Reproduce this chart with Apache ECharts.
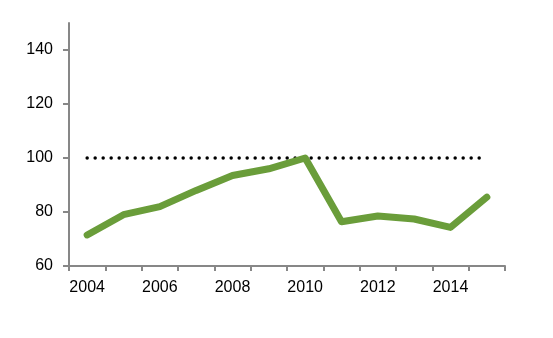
<!DOCTYPE html>
<html>
<head>
<meta charset="utf-8">
<script src="https://cdn.jsdelivr.net/npm/echarts@6/dist/echarts.min.js"></script>
<style>
  html, body { margin: 0; padding: 0; background: #fff; }
  #chart { width: 553px; height: 338px; }
</style>
</head>
<body>
<div id="chart"></div>
<script>
// Yearly index values and the 100 reference level
const years = ['2004', '2005', '2006', '2007', '2008', '2009', '2010', '2011', '2012', '2013', '2014', '2015'];
const indexValues = [71.5, 79, 82, 88, 93.5, 96, 100, 76.4, 78.5, 77.4, 74.3, 85.5];
const referenceLevel = [100, 100, 100, 100, 100, 100, 100, 100, 100, 100, 100, 100];
const yTicks = { min: 60, max: 150, interval: 20 };

const axisGray = '#878787';
const labelFont = { color: '#000', fontSize: 16, fontFamily: 'Liberation Sans, Arial, sans-serif' };

const chart = echarts.init(document.getElementById('chart'), null, { renderer: 'canvas' });
chart.setOption({
  animation: false,
  backgroundColor: '#fff',
  grid: { left: 69, right: 48, top: 23, bottom: 72, containLabel: false },
  xAxis: {
    type: 'category',
    data: years,
    boundaryGap: true,
    axisLine: { lineStyle: { color: axisGray, width: 2 } },
    axisTick: { show: true, interval: 0, length: 5, lineStyle: { color: axisGray, width: 2 } },
    axisLabel: Object.assign({ interval: 1, margin: 14 }, labelFont),
    splitLine: { show: false }
  },
  yAxis: {
    type: 'value',
    min: yTicks.min,
    max: yTicks.max,
    interval: yTicks.interval,
    axisLine: { show: true, lineStyle: { color: axisGray, width: 2 } },
    axisTick: { show: true, length: 6, lineStyle: { color: axisGray, width: 2 } },
    axisLabel: Object.assign({ margin: 16, showMaxLabel: false }, labelFont),
    splitLine: { show: false }
  },
  series: [
    {
      type: 'line',
      data: referenceLevel,
      symbol: 'none',
      z: 2,
      lineStyle: { color: '#000', width: 3.5, type: [0, 8], cap: 'round' }
    },
    {
      type: 'line',
      data: indexValues,
      symbol: 'none',
      z: 3,
      lineStyle: { color: '#6a9d3a', width: 7, cap: 'round', join: 'round' }
    }
  ]
});
</script>
</body>
</html>
